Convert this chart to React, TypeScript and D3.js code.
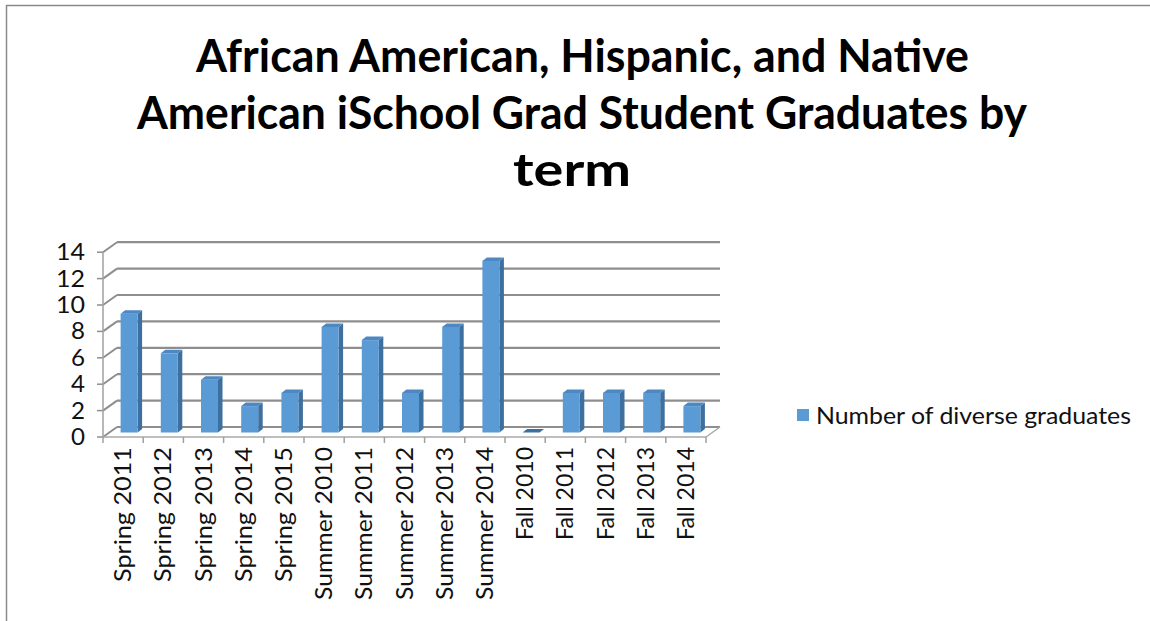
import React from "react";
import * as d3 from "d3";

const categories = [
  "Spring 2011", "Spring 2012", "Spring 2013", "Spring 2014", "Spring 2015",
  "Summer 2010", "Summer 2011", "Summer 2012", "Summer 2013", "Summer 2014",
  "Fall 2010", "Fall 2011", "Fall 2012", "Fall 2013", "Fall 2014",
];
const graduates = [9, 6, 4, 2, 3, 8, 7, 3, 8, 13, 0, 3, 3, 3, 2];
const yTicks = [0, 2, 4, 6, 8, 10, 12, 14];
const titleLines = [
  "African American, Hispanic, and Native",
  "American iSchool Grad Student Graduates by",
  "term",
];
const seriesName = "Number of diverse graduates";

const W = 1150;
const H = 621;
const FONT = "Lato, 'Open Sans', sans-serif";

export default function App() {
  const x = d3.scaleBand<string>().domain(categories).range([103, 706]).paddingInner(0).paddingOuter(0);
  const y = d3.scaleLinear().domain([0, 14]).range([437, 252.2]);
  const depth = { dx: 14, dy: -10 };
  const barMid = { dx: 6, dy: -4.5 };
  const barDepth = { dx: 4.5, dy: -3.5 };
  const barW = 17;

  const gridColor = "#8e8e8e";
  const front = "#5B9BD5";
  const side = "#3D6F9F";
  const top = "#4E88C2";

  const titleWidths = [773, 890, 118];
  const titleX = [196, 137, 513];
  const titleY = [72, 129, 186];

  const labelLen = (c: string) => (c.startsWith("Spring") ? 135 : c.startsWith("Summer") ? 153 : 93);

  return (
    <svg width={W} height={H} style={{ position: "absolute", left: 0, top: 0, background: "#fff" }}>
      {/* frame */}
      <line x1={6} y1={5.5} x2={W} y2={5.5} stroke="#8a8a8a" strokeWidth={1.5} />
      <line x1={6.5} y1={5} x2={6.5} y2={H} stroke="#8a8a8a" strokeWidth={1.5} />

      {/* title */}
      {titleLines.map((t, i) => (
        <text
          key={t}
          x={titleX[i]}
          y={titleY[i]}
          fontFamily={FONT}
          fontWeight={700}
          fontSize={46}
          fill="#000"
          textLength={titleWidths[i]}
          lengthAdjust="spacingAndGlyphs"
        >
          {t}
        </text>
      ))}

      {/* back wall gridlines and left wall diagonals */}
      {yTicks.map((v) => (
        <g key={v}>
          <line
            x1={103 + depth.dx}
            x2={706 + depth.dx}
            y1={y(v) + depth.dy}
            y2={y(v) + depth.dy}
            stroke={gridColor}
            strokeWidth={2.2}
          />
          <line
            x1={103}
            y1={y(v)}
            x2={103 + depth.dx}
            y2={y(v) + depth.dy}
            stroke={gridColor}
            strokeWidth={2}
          />
          <line x1={97} x2={103} y1={y(v)} y2={y(v)} stroke={gridColor} strokeWidth={1.5} />
          <text
            x={85}
            y={y(v) + 8}
            textAnchor="end"
            fontFamily={FONT}
            fontSize={23}
            fill="#111"
            textLength={v >= 10 ? 29 : 14}
            lengthAdjust="spacingAndGlyphs"
          >
            {v}
          </text>
        </g>
      ))}

      {/* floor */}
      <line x1={103} x2={706} y1={437} y2={437} stroke="#a8a8a8" strokeWidth={1.5} />
      <line x1={706} y1={437} x2={706 + depth.dx} y2={437 + depth.dy} stroke="#a8a8a8" strokeWidth={1.5} />
      {/* vertical axis */}
      <line x1={103} x2={103} y1={y(14)} y2={437} stroke="#a0a0a0" strokeWidth={1.5} />

      {/* category ticks */}
      {d3.range(categories.length + 1).map((i) => {
        const tx = 103 + x.bandwidth() * i;
        return <line key={i} x1={tx} x2={tx} y1={437} y2={443} stroke="#a0a0a0" strokeWidth={1.5} />;
      })}

      {/* bars */}
      {categories.map((c, i) => {
        const v = graduates[i];
        const cx = (x(c) as number) + x.bandwidth() / 2 + barMid.dx;
        const x0 = cx - barW / 2;
        const x1 = cx + barW / 2;
        const yb = y(0) + barMid.dy;
        const yt = y(v) + barMid.dy;
        const d = barDepth;
        const sidePts = [
          [x1, yb], [x1 + d.dx, yb + d.dy], [x1 + d.dx, yt + d.dy], [x1, yt],
        ];
        const topPts = [
          [x0, yt], [x1, yt], [x1 + d.dx, yt + d.dy], [x0 + d.dx, yt + d.dy],
        ];
        const toStr = (p: number[][]) => p.map((q) => q.join(",")).join(" ");
        return (
          <g key={c}>
            {v > 0 && <polygon points={toStr(sidePts)} fill={side} />}
            {v > 0 && <rect x={x0} y={yt} width={barW} height={yb - yt} fill={front} />}
            <polygon points={toStr(topPts)} fill={v > 0 ? top : "#3F6F9E"} />
          </g>
        );
      })}

      {/* category labels */}
      {categories.map((c) => {
        const cx = (x(c) as number) + x.bandwidth() / 2;
        return (
          <text
            key={c}
            transform={`translate(${cx + 8},447) rotate(-90)`}
            textAnchor="end"
            fontFamily={FONT}
            fontSize={23}
            fill="#111"
            textLength={labelLen(c)}
            lengthAdjust="spacingAndGlyphs"
          >
            {c}
          </text>
        );
      })}

      {/* legend */}
      <rect x={797} y={409} width={12} height={12} fill={front} />
      <text
        x={816}
        y={424}
        fontFamily={FONT}
        fontSize={23}
        fill="#111"
        textLength={315}
        lengthAdjust="spacingAndGlyphs"
      >
        {seriesName}
      </text>
    </svg>
  );
}
